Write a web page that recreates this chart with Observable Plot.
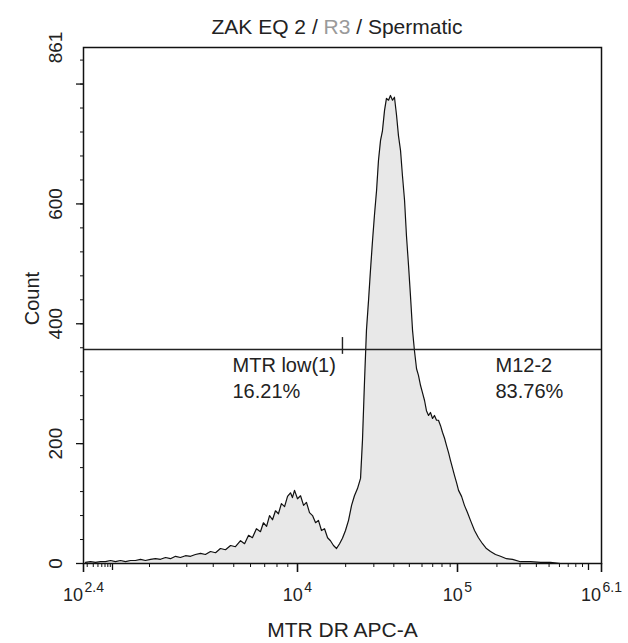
<!DOCTYPE html>
<html><head><meta charset="utf-8">
<script src="https://cdn.jsdelivr.net/npm/d3@7"></script>
<script src="https://cdn.jsdelivr.net/npm/@observablehq/plot@0.6"></script>
<style>
body{margin:0;background:#fff;font-family:"Liberation Sans",Arial,sans-serif;}
#wrap{position:relative;width:628px;height:643px;}
#title{position:absolute;top:15px;left:72px;width:530px;text-align:center;font-size:21px;color:#222;white-space:nowrap;}
#title .g{color:#9a9a9a}
</style></head><body>
<div id="wrap"><div id="title">ZAK EQ 2 / <span class="g">R3</span> / Spermatic</div><div id="chart"></div></div>
<script>
// log10 of MTR DR APC-A intensity (decades)
const decades = [2.441,2.545,2.648,2.752,2.855,2.959,3.024,3.065,3.106,3.146,3.187,3.228,3.268,
3.306,3.329,3.353,3.377,3.400,3.424,3.447,3.471,3.495,3.518,3.542,3.565,3.589,3.613,3.636,3.660,3.684,3.707,
3.731,3.750,3.769,3.787,3.806,3.825,3.839,3.854,3.868,3.882,3.896,3.910,3.924,3.939,3.953,3.967,3.976,3.986,
4.000,4.019,4.038,4.056,4.075,4.094,4.113,4.131,4.150,4.169,4.188,4.206,4.225,4.244,4.263,4.281,4.300,4.319,
4.338,4.356,4.375,4.394,4.406,4.419,4.431,4.444,4.456,4.469,4.481,4.494,4.506,4.519,4.531,4.544,4.556,4.569,
4.581,4.594,4.606,4.619,4.631,4.644,4.656,4.669,4.681,4.694,4.706,4.719,4.731,4.744,4.756,4.769,4.781,4.794,
4.806,4.819,4.831,4.844,4.856,4.869,4.881,4.894,4.906,4.919,4.931,4.944,4.956,4.969,4.981,4.994,
5.008,5.031,5.053,5.076,5.099,5.130,5.160,5.191,5.221,5.252,5.290,5.328,5.374,5.420,5.481,5.557,5.634,5.710,
5.786,5.939,6.090];
const counts = [2,3,2,3,3,5,3,5,3,5,5,7,5,
7,8,7,10,8,12,10,13,12,15,17,15,20,18,25,23,30,28,
38,33,47,43,58,53,68,62,80,73,88,83,100,95,112,118,110,122,
108,113,97,102,85,80,68,72,55,58,43,38,30,25,33,42,55,72,
97,113,125,142,205,305,389,439,489,539,581,622,672,706,722,756,776,773,
781,773,778,748,714,689,647,606,547,497,447,389,355,325,314,297,285,272,
255,247,252,242,247,239,239,230,219,209,197,185,172,159,147,135,
122,112,97,85,72,55,43,33,25,20,15,12,8,7,3,3,2,2,
0,0,0];
const data = decades.map((d, i) => ({x: d, y: counts[i]}));

// axis definitions
const xDomain = [2.4, 3, 3.301, 4, 5, 6, 6.1];
const xRange = [83, 112, 149, 297, 457, 588, 601];
const xMinorValues = [300,400,500,600,700,800,900,2000,3000,4000,5000,6000,7000,8000,9000,
  20000,30000,40000,50000,60000,70000,80000,90000,200000,300000,400000,500000,600000,700000,800000,900000];
const xMidValues = [1000, 1000000];
const xMajorDecades = [2.4, 4, 5, 6.1];
const xLabelExps = ["2.4", "4", "5", "6.1"];
const yMinorTicks = d3.range(0, 861, 40);
const yMajorTicks = [0, 200, 400, 600, 800];
const yLabels = [0, 200, 400, 600, 861];
const gateCount = 357;
const gateSplit = 4.281;
const gates = [
  {x: 3.693, name: "MTR low(1)", pct: "16.21%"},
  {x: 5.290, name: "M12-2", pct: "83.76%"}
];

const font = "'Liberation Sans', Arial, sans-serif";
const ink = "#222";

// tick lengths expressed in scale units (px per count = 516/861, px per decade left = 29/0.6)
const cPerPx = 861 / 516;
const dPerPx = 0.6 / 29;
const xTick = (vals, len, w) => Plot.ruleX(vals, {x: d => d, y1: 0, y2: len * cPerPx, dy: len,
  stroke: "#111", strokeWidth: w});
const yTick = (vals, len, w) => Plot.ruleY(vals, {y: d => d, x1: 2.4, x2: 2.4 + len * dPerPx, dx: -len,
  stroke: "#111", strokeWidth: w});

const xLabelMarks = [];
xMajorDecades.forEach((v, i) => {
  const exp = xLabelExps[i];
  const expW = exp.split("").reduce((s, c) => s + (c === "." ? 3.9 : 7.8), 0);
  const total = 20 + 1.5 + expW;
  xLabelMarks.push(Plot.text([v], {x: d => d, y: 0, text: () => "10", textAnchor: "start",
    lineAnchor: "bottom", dx: -total / 2, dy: 37, fontSize: 18, fill: ink}));
  xLabelMarks.push(Plot.text([v], {x: d => d, y: 0, text: () => exp, textAnchor: "start",
    lineAnchor: "bottom", dx: -total / 2 + 21.5, dy: 28, fontSize: 14, fill: ink}));
});

const chart = Plot.plot({
  width: 628, height: 643,
  marginLeft: 83, marginRight: 27, marginTop: 47, marginBottom: 80,
  style: {fontFamily: font, background: "white", overflow: "visible"},
  x: {type: "linear", domain: xDomain, range: xRange, label: null, axis: null},
  y: {domain: [0, 861], label: null, axis: null},
  marks: [
    Plot.areaY(data, {x: "x", y: "y", fill: "#e8e8e8"}),
    Plot.lineY(data, {x: "x", y: "y", stroke: "#111", strokeWidth: 1.2}),
    Plot.ruleY([gateCount], {stroke: ink, strokeWidth: 1.4}),
    Plot.ruleX([gateSplit], {y1: gateCount - 8, y2: gateCount + 20, stroke: ink, strokeWidth: 1.4}),
    Plot.text(gates, {x: "x", y: gateCount - 7, text: d => d.name + "\n" + d.pct, textAnchor: "start",
      lineAnchor: "top", lineHeight: 1.3, fontSize: 20, fill: ink}),
    Plot.frame({stroke: "#111", strokeWidth: 1.5}),
    xTick(xMinorValues.map(Math.log10), 4, 1),
    xTick(xMidValues.map(Math.log10), 7, 1.3),
    xTick(xMajorDecades, 9, 1.6),
    yTick(yMinorTicks, 3, 1),
    yTick(yMajorTicks, 7, 1.3),
    ...xLabelMarks,
    Plot.text(yLabels, {x: 2.4, y: d => d, text: d => String(d), rotate: -90, dx: -28,
      textAnchor: "middle", lineAnchor: "middle", fontSize: 19, fill: ink}),
    Plot.text(["Count"], {x: 2.4, y: 442, text: d => d, rotate: -90, dx: -51,
      textAnchor: "middle", lineAnchor: "middle", fontSize: 20, fill: ink}),
    Plot.text(["MTR DR APC-A"], {frameAnchor: "bottom", text: d => d, dy: 73,
      lineAnchor: "bottom", fontSize: 21, fill: ink})
  ]
});
document.getElementById("chart").appendChild(chart);
</script>
</body></html>
